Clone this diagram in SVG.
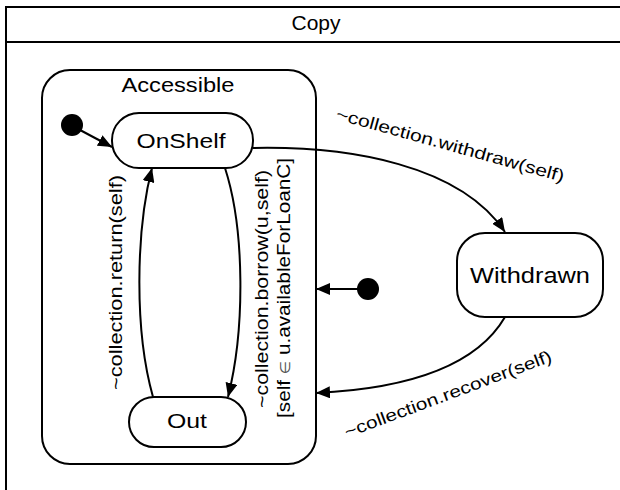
<svg xmlns="http://www.w3.org/2000/svg" width="620" height="490" viewBox="0 0 620 490">
<defs>
<style>
.ln{fill:none;stroke:#000;stroke-width:2}
.st{fill:#fff;stroke:#000;stroke-width:2}
.t{font-family:"Liberation Sans","DejaVu Sans",sans-serif;fill:#000}
.lbl{font-size:19px}
.ang{font-size:17px}
</style>
<marker id="ah" viewBox="0 0 14 12" markerWidth="14" markerHeight="12" refX="14" refY="6" orient="auto" markerUnits="userSpaceOnUse">
<path d="M0,0 L14,6 L0,12 z" fill="#000"/>
</marker>
</defs>
<rect width="620" height="490" fill="#fff"/>
<g id="frame">
<path class="ln" d="M6,490 L6,7 L620,7 M6,42 L620,42"/>
<text class="t" x="316" y="30" font-size="20" text-anchor="middle" textLength="49" lengthAdjust="spacingAndGlyphs">Copy</text>
</g>
<g id="accessible">
<rect class="st" x="42" y="70" width="274" height="394" rx="28" ry="28"/>
<text class="t" x="178" y="92" font-size="20" text-anchor="middle" textLength="113" lengthAdjust="spacingAndGlyphs">Accessible</text>
</g>
<g id="onshelf">
<rect class="st" x="112" y="113" width="141" height="55" rx="27" ry="27"/>
<text class="t" x="181" y="148" font-size="21" text-anchor="middle" textLength="89" lengthAdjust="spacingAndGlyphs">OnShelf</text>
</g>
<g id="out">
<rect class="st" x="129" y="397" width="117" height="50" rx="25" ry="25"/>
<text class="t" x="187" y="428" font-size="21" text-anchor="middle" textLength="40" lengthAdjust="spacingAndGlyphs">Out</text>
</g>
<g id="withdrawn">
<rect class="st" x="457" y="233" width="146" height="84" rx="28" ry="28"/>
<text class="t" x="530" y="283" font-size="22" text-anchor="middle" textLength="120" lengthAdjust="spacingAndGlyphs">Withdrawn</text>
</g>
<g id="init1">
<circle cx="72" cy="125" r="11" fill="#000"/>
</g>
<g id="init2">
<circle cx="368" cy="289" r="11" fill="#000"/>
</g>
<g id="connectors">
<path class="ln" d="M80,130 L112,147" marker-end="url(#ah)"/>
<path class="ln" d="M358,289 L316,289" marker-end="url(#ah)"/>
<path class="ln" d="M253,148 C350,146 460,165 505,232" marker-end="url(#ah)"/>
<path class="ln" d="M505,317 C480,360 420,388 316,393" marker-end="url(#ah)"/>
<path class="ln" d="M153,397 C134,330 136,230 152,168" marker-end="url(#ah)"/>
<path class="ln" d="M225,168 C245,230 245,330 228,397" marker-end="url(#ah)"/>
<text class="t lbl" transform="translate(122,282.5) rotate(-90)" text-anchor="middle" textLength="215" lengthAdjust="spacingAndGlyphs">~collection.return(self)</text>
<text class="t lbl" transform="translate(268,289) rotate(-90)" text-anchor="middle" textLength="238" lengthAdjust="spacingAndGlyphs">~collection.borrow(u,self)</text>
<text class="t lbl" transform="translate(290,288) rotate(-90)" text-anchor="middle" textLength="260" lengthAdjust="spacingAndGlyphs">[self <tspan fill="#555" font-size="14">∈</tspan> u.availableForLoanC]</text>
<text class="t ang" transform="translate(335,119) rotate(15.5)" textLength="236" lengthAdjust="spacingAndGlyphs">~collection.withdraw(self)</text>
<text class="t ang" transform="translate(347,438) rotate(-20.5)" textLength="220" lengthAdjust="spacingAndGlyphs">~collection.recover(self)</text>
</g>
</svg>
